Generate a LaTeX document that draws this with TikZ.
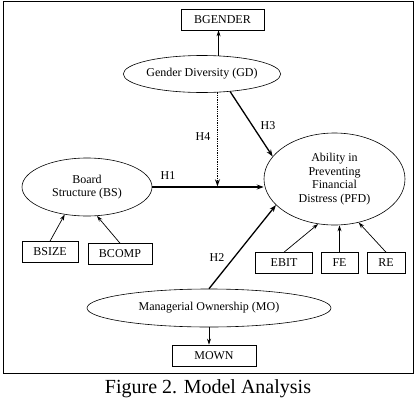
\documentclass[tikz,border=0pt]{standalone}
\usepackage{fontspec}
\setmainfont{Liberation Serif}
\usetikzlibrary{shapes.geometric,arrows.meta}
\begin{document}
\begin{tikzpicture}[x=1pt, y=-1pt, font=\fontsize{12}{13.5}\selectfont,
		latent/.style={ellipse, draw, line width=0.6pt, inner sep=0pt, align=center},
		item/.style={rectangle, draw, line width=0.6pt, inner sep=0pt, minimum height=21pt},
		hyp/.style={line width=1.3pt, -{Stealth[length=7pt, width=5pt]}},
		link/.style={line width=0.7pt, -{Stealth[length=6pt, width=4pt]}}
		]
	\useasboundingbox (0,0) rectangle (418,402);
	\draw [line width=0.6pt] (3,1) rectangle (413,373);
	\node [item, minimum width=83pt] (bgender) at (222.5,19.5) {BGENDER};
	\node [latent, minimum width=156pt, minimum height=37pt] (gd) at (202,74) {Gender Diversity (GD)};
	\node [latent, minimum width=130pt, minimum height=58pt] (bs) at (87,187) {Board\\Structure (BS)};
	\node [latent, minimum width=141pt, minimum height=92pt] (pfd) at (334.5,179) {Ability in\\Preventing\\Financial\\Distress (PFD)};
	\node [latent, minimum width=244pt, minimum height=38pt] (mo) at (209,308) {Managerial Ownership (MO)};
	\node [item, minimum width=56pt] (bsize) at (50,252) {BSIZE};
	\node [item, minimum width=64pt] (bcomp) at (120,254) {BCOMP};
	\node [item, minimum width=57pt] (ebit) at (284,263) {EBIT};
	\node [item, minimum width=37pt] (fe) at (339.5,263) {FE};
	\node [item, minimum width=38pt] (re) at (386,263) {RE};
	\node [item, minimum width=84pt] (mown) at (214,355.5) {MOWN};
	% indicators
	\draw [link] (gd.48) -- (gd.48 |- bgender.south);
	\draw [link] (bsize.north) -- (bs.231);
	\draw [link] (bcomp.north) -- (bs.289);
	\draw [link] (ebit.north) -- (pfd.250);
	\draw [link] (fe.north) -- (fe.north |- pfd.south);
	\draw [link] (re.north) -- (pfd.299);
	\draw [link] (mo.south) -- (mo.south |- mown.north);
	% hypotheses
	\draw [hyp] (bs.east) -- (bs.east -| pfd.west);
	\draw [hyp, densely dotted, shorten >=0.7pt] (gd.-50) -- (gd.-50 |- bs.east);
	\draw [hyp] (gd.-32) -- (pfd.160);
	\draw [hyp] (mo.north) -- (pfd.204);
	\node (h1) at (168,176) {H1};
	\node (h2) at (217,258) {H2};
	\node (h3) at (268,126) {H3};
	\node (h4) at (203,137) {H4};
	\node [font=\fontsize{20}{24}\selectfont] (caption) at (208,389) {Figure 2. Model Analysis};
\end{tikzpicture}
\end{document}
